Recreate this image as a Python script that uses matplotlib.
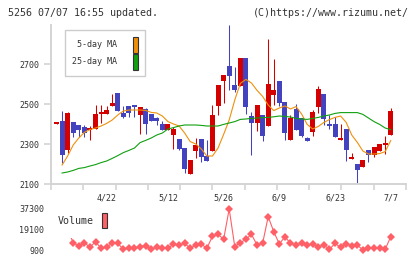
import numpy as np
import matplotlib.pyplot as plt
from matplotlib.patches import Patch

# 5256 daily chart, 4/9 - 7/7
dates = ["4/9", "4/10", "4/11", "4/14", "4/15", "4/16", "4/17", "4/18", "4/21", "4/22",
         "4/23", "4/24", "4/25", "4/28", "4/30", "5/1", "5/2", "5/7", "5/8", "5/9",
         "5/12", "5/13", "5/14", "5/15", "5/16", "5/19", "5/20", "5/21", "5/22", "5/23",
         "5/26", "5/27", "5/28", "5/29", "5/30", "6/2", "6/3", "6/4", "6/5", "6/6",
         "6/9", "6/10", "6/11", "6/12", "6/13", "6/16", "6/17", "6/18", "6/19", "6/20",
         "6/23", "6/24", "6/25", "6/26", "6/27", "6/30", "7/1", "7/2", "7/3", "7/4", "7/7"]

opens = [2400, 2415, 2270, 2410, 2395, 2385, 2370, 2377, 2450, 2448,
         2490, 2557, 2457, 2490, 2497, 2447, 2477, 2452, 2432, 2402,
         2372, 2347, 2327, 2282, 2152, 2267, 2325, 2240, 2267, 2490,
         2615, 2690, 2595, 2590, 2730, 2440, 2407, 2445, 2390, 2545,
         2615, 2510, 2320, 2475, 2428, 2330, 2362, 2487, 2550, 2400,
         2400, 2320, 2375, 2225, 2200, 2187, 2270, 2247, 2267, 2295, 2347]
highs = [2405, 2465, 2462, 2410, 2395, 2393, 2390, 2495, 2495, 2490,
         2550, 2557, 2490, 2490, 2497, 2487, 2480, 2452, 2437, 2417,
         2402, 2387, 2327, 2282, 2222, 2328, 2325, 2320, 2495, 2595,
         2645, 2895, 2687, 2730, 2730, 2462, 2495, 2445, 2825, 2725,
         2615, 2510, 2445, 2500, 2430, 2337, 2470, 2590, 2550, 2445,
         2437, 2400, 2375, 2257, 2200, 2220, 2270, 2287, 2300, 2340, 2480]
lows = [2400, 2203, 2257, 2337, 2337, 2337, 2320, 2377, 2405, 2448,
        2490, 2467, 2432, 2437, 2437, 2352, 2352, 2415, 2397, 2372,
        2372, 2277, 2272, 2157, 2152, 2228, 2212, 2217, 2267, 2445,
        2507, 2570, 2562, 2590, 2450, 2245, 2367, 2317, 2390, 2495,
        2490, 2320, 2320, 2370, 2333, 2315, 2340, 2457, 2395, 2375,
        2337, 2320, 2217, 2225, 2097, 2187, 2212, 2237, 2267, 2250, 2347]
closes = [2405, 2245, 2457, 2357, 2370, 2357, 2380, 2450, 2453, 2470,
          2503, 2467, 2437, 2457, 2487, 2487, 2402, 2417, 2417, 2372,
          2402, 2377, 2277, 2177, 2222, 2295, 2233, 2217, 2445, 2595,
          2645, 2640, 2570, 2730, 2487, 2403, 2495, 2340, 2600, 2570,
          2507, 2357, 2432, 2370, 2340, 2315, 2462, 2573, 2423, 2390,
          2337, 2325, 2272, 2230, 2172, 2220, 2247, 2287, 2300, 2300, 2465]

# moving averages as drawn on the chart
ma5 = [np.nan, 2195, 2240, 2295, 2330, 2358, 2372, 2380, 2390, 2403,
       2420, 2445, 2465, 2470, 2470, 2470, 2468, 2458, 2455, 2440,
       2412, 2400, 2390, 2355, 2312, 2300, 2275, 2240, 2240, 2280,
       2348, 2420, 2520, 2603, 2623, 2605, 2568, 2538, 2495, 2467,
       2480, 2490, 2475, 2487, 2450, 2398, 2375, 2388, 2408, 2422,
       2433, 2440, 2408, 2345, 2308, 2265, 2250, 2250, 2252, 2262, 2317]
ma25 = [np.nan, 2155, 2160, 2168, 2178, 2182, 2190, 2197, 2207, 2215,
        2228, 2242, 2257, 2268, 2280, 2307, 2318, 2330, 2345, 2355,
        2375, 2382, 2390, 2395, 2395, 2395, 2393, 2390, 2390, 2390,
        2398, 2405, 2412, 2423, 2425, 2428, 2430, 2432, 2433, 2436,
        2440, 2438, 2435, 2428, 2425, 2423, 2428, 2433, 2440, 2445,
        2453, 2457, 2457, 2457, 2457, 2448, 2430, 2412, 2398, 2380, 2372]

volume = [16000, 20000, 19000, 7400, 4450, 7400, 3300, 8300, 2400, 3300,
          7400, 6800, 1500, 2400, 2400, 3900, 4750, 1500, 3300, 2400,
          2400, 6200, 5300, 6800, 2400, 5300, 6200, 2400, 13300, 14800,
          10400, 37300, 3900, 7400, 10400, 14800, 5300, 6800, 30500, 17200,
          6200, 12700, 6800, 5300, 6800, 5300, 6200, 3900, 5300, 1500,
          6800, 3300, 6200, 4750, 5300, 900, 2400, 2400, 2400, 1500, 12700]

label_dates = ["4/22", "5/12", "5/26", "6/9", "6/23", "7/7"]
price_ticks = [2100, 2300, 2500, 2700]
vol_ticks = [900, 19100, 37300]

RED = "#d40000"
BLUE = "#4343c0"
GRID = "#d4d4d4"
MONO = "DejaVu Sans Mono"

plt.rcParams["font.family"] = MONO
plt.rcParams["text.color"] = "#333333"

fig = plt.figure(figsize=(4.2, 2.59), dpi=100)
ax = fig.add_axes([51 / 420, 1 - 184 / 259, 355 / 420, 159 / 259])

x = np.arange(len(dates))
o = np.array(opens)
c = np.array(closes)
up = c >= o
cols = [RED if u else BLUE for u in up]

# wicks and bodies
ax.vlines(x, lows, highs, colors=cols, lw=0.75, zorder=2)
body = np.maximum(np.abs(c - o), 8)
ax.bar(x, body, bottom=np.minimum(o, c), width=0.9, color=cols, lw=0, zorder=3)

ax.plot(x, ma5, color="#f0900a", lw=0.8, zorder=4)
ax.plot(x, ma25, color="#10a010", lw=0.8, zorder=4)

xlim = (-0.99, 62.74)
ax.set_xlim(xlim)
ax.set_ylim(2100, 2895)
for s in ["top", "right"]:
    ax.spines[s].set_visible(False)
for s in ["left", "bottom"]:
    ax.spines[s].set_color(GRID)
    ax.spines[s].set_linewidth(1.4)

ax.set_yticks(price_ticks)
ax.tick_params(axis="y", length=5, width=1.2, color=GRID, labelsize=6, pad=3.5, labelcolor="#333333")
ax.set_xticks(np.linspace(xlim[0], xlim[1], 12))
ax.set_xticklabels([])
ax.tick_params(axis="x", which="major", length=4.5, width=1.2, color=GRID)
ax.set_xticks([dates.index(d) for d in label_dates], minor=True)
ax.set_xticklabels(label_dates, minor=True)
ax.tick_params(axis="x", which="minor", length=0, pad=7, labelsize=6, labelcolor="#333333")

leg = ax.legend(handles=[Patch(facecolor="#f0900a", edgecolor="#333333", lw=0.8),
                         Patch(facecolor="#10a010", edgecolor="#333333", lw=0.8)],
                labels=[" 5-day MA", "25-day MA"], loc="upper left",
                bbox_to_anchor=(65 / 420, 1 - 30 / 259), bbox_transform=fig.transFigure,
                markerfirst=False, fancybox=False, edgecolor="#cccccc", framealpha=1,
                handlelength=0.6, handleheight=2.57, handletextpad=2.0, labelspacing=0.12,
                borderpad=0.8, borderaxespad=0, prop={"family": MONO, "size": 6})
leg.get_frame().set_linewidth(1.0)

# volume panel
vax = fig.add_axes([51 / 420, 1 - 250 / 259, 355 / 420, 41 / 259])
vax.plot(x, volume, color="#ff5f66", lw=0.8, marker="D", ms=4, mew=0, clip_on=False)
vax.set_xlim(xlim)
vax.set_ylim(900, 37300)
for s in vax.spines.values():
    s.set_visible(False)
vax.set_xticks([])
vax.set_yticks(vol_ticks)
vax.set_yticklabels([str(v) for v in vol_ticks])
vax.tick_params(axis="y", length=0, pad=5, labelsize=6, labelcolor="#333333")

vleg = vax.legend(handles=[Patch(facecolor="#ff5f66", edgecolor="#333333", lw=0.8)],
                  labels=["Volume"], loc="upper left",
                  bbox_to_anchor=(48 / 420, 1 - 203 / 259), bbox_transform=fig.transFigure,
                  markerfirst=False, fancybox=False, edgecolor="none", facecolor="white",
                  framealpha=1, handlelength=0.56, handleheight=1.93, handletextpad=0.77,
                  borderpad=1.0, borderaxespad=0, prop={"family": MONO, "size": 7.2})

fig.text(8 / 420, 1 - 12.5 / 259, "5256 07/07 16:55 updated.", fontsize=7.2, va="center", ha="left")
fig.text(409 / 420, 1 - 12.5 / 259, "(C)https://www.rizumu.net/", fontsize=7.2, va="center", ha="right")

fig.savefig("out.png", dpi=100)
